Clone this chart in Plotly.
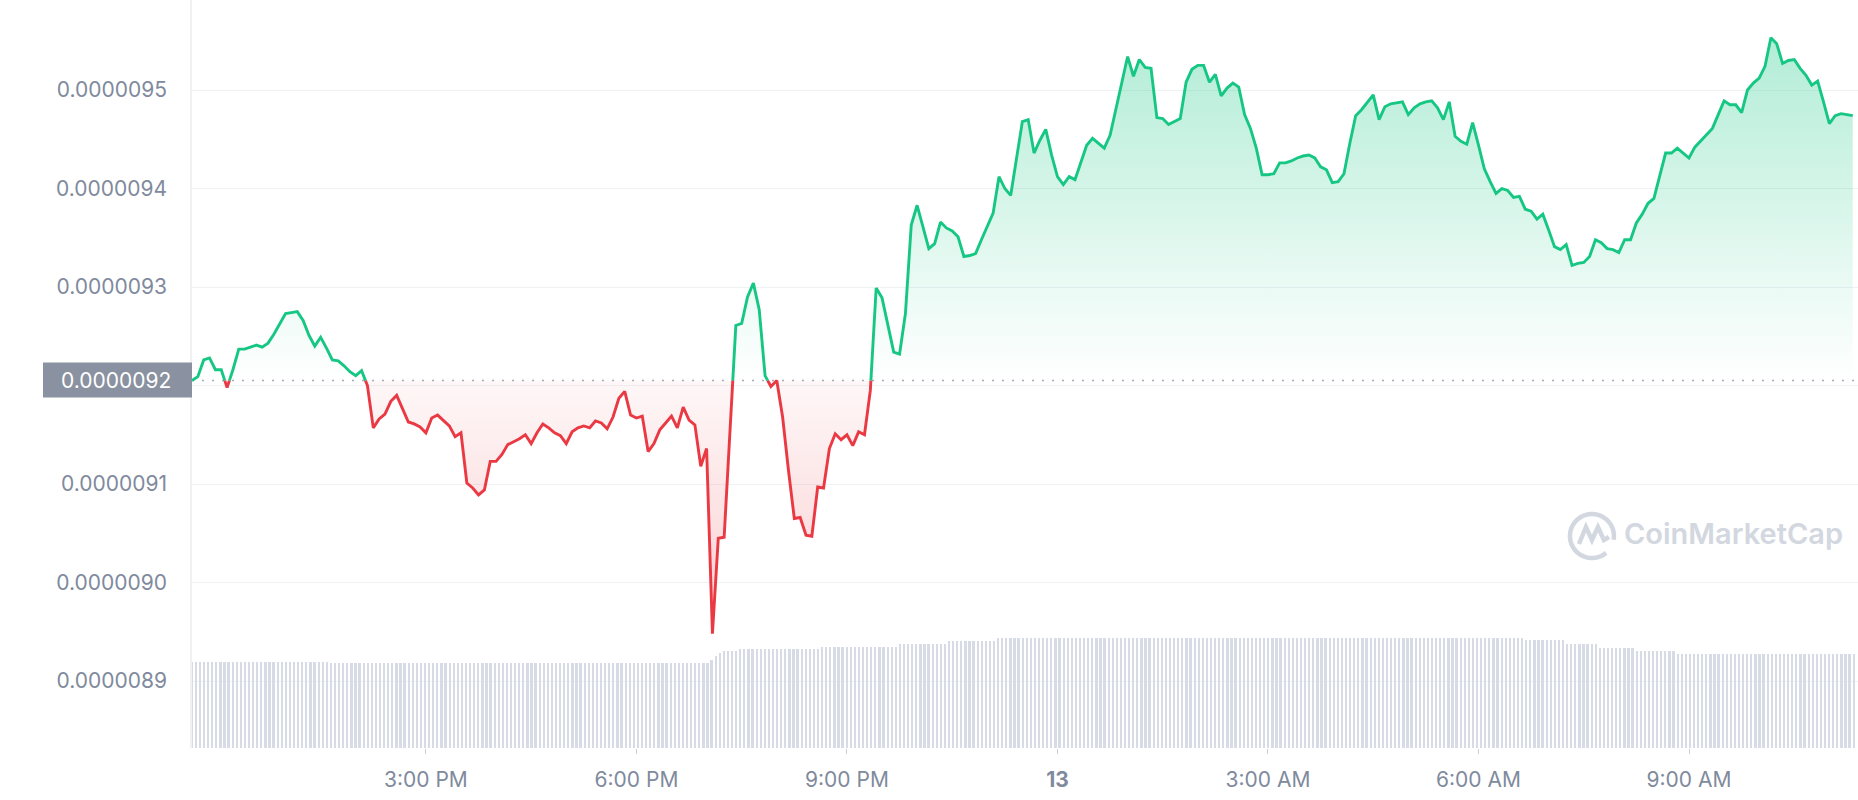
import numpy as np
import pandas as pd
import plotly.graph_objects as go

# ---------------- data (prices in millionths of a dollar, 5-minute steps) ----------------
START = "2023-01-12 11:40"
STEP = "5min"
PRICE_MICRO = [
    9.205, 9.209, 9.226, 9.228, 9.216, 9.216, 9.198, 9.216, 9.237, 9.237,
    9.239, 9.241, 9.239, 9.243, 9.252, 9.262, 9.273, 9.274, 9.275, 9.266,
    9.251, 9.240, 9.249, 9.238, 9.226, 9.225, 9.220, 9.214, 9.210, 9.215,
    9.200, 9.157, 9.166, 9.171, 9.184, 9.190, 9.176, 9.163, 9.161, 9.158,
    9.152, 9.167, 9.170, 9.165, 9.159, 9.148, 9.152, 9.101, 9.096, 9.089,
    9.094, 9.123, 9.123, 9.130, 9.140, 9.143, 9.146, 9.150, 9.141, 9.152,
    9.161, 9.157, 9.152, 9.149, 9.141, 9.153, 9.157, 9.159, 9.157, 9.164,
    9.162, 9.156, 9.168, 9.187, 9.194, 9.170, 9.167, 9.169, 9.133, 9.141,
    9.155, 9.162, 9.169, 9.157, 9.178, 9.165, 9.160, 9.118, 9.136, 8.948,
    9.045, 9.046, 9.154, 9.261, 9.263, 9.290, 9.304, 9.277, 9.210, 9.199,
    9.205, 9.168, 9.114, 9.065, 9.066, 9.048, 9.047, 9.097, 9.096, 9.136,
    9.151, 9.145, 9.150, 9.139, 9.153, 9.150, 9.195, 9.299, 9.289, 9.263,
    9.234, 9.232, 9.273, 9.363, 9.383, 9.361, 9.339, 9.344, 9.366, 9.360,
    9.357, 9.351, 9.331, 9.332, 9.334, 9.348, 9.361, 9.375, 9.412, 9.400,
    9.393, 9.432, 9.468, 9.470, 9.436, 9.449, 9.460, 9.434, 9.412, 9.404,
    9.412, 9.409, 9.426, 9.444, 9.451, 9.446, 9.441, 9.454, 9.480, 9.505,
    9.534, 9.514, 9.531, 9.523, 9.522, 9.472, 9.471, 9.465, 9.468, 9.471,
    9.508, 9.521, 9.525, 9.525, 9.508, 9.516, 9.494, 9.502, 9.507, 9.503,
    9.475, 9.461, 9.441, 9.414, 9.414, 9.415, 9.426, 9.426, 9.428, 9.431,
    9.433, 9.434, 9.431, 9.422, 9.419, 9.406, 9.407, 9.415, 9.446, 9.474,
    9.480, 9.488, 9.495, 9.470, 9.483, 9.486, 9.487, 9.488, 9.475, 9.482,
    9.486, 9.488, 9.489, 9.482, 9.470, 9.488, 9.453, 9.448, 9.445, 9.467,
    9.444, 9.420, 9.407, 9.395, 9.400, 9.398, 9.391, 9.392, 9.379, 9.377,
    9.369, 9.374, 9.358, 9.341, 9.338, 9.343, 9.322, 9.324, 9.325, 9.331,
    9.348, 9.345, 9.339, 9.338, 9.335, 9.348, 9.348, 9.365, 9.374, 9.385,
    9.390, 9.412, 9.436, 9.436, 9.441, 9.436, 9.431, 9.442, 9.448, 9.454,
    9.461, 9.475, 9.489, 9.485, 9.485, 9.477, 9.500, 9.507, 9.512, 9.524,
    9.553, 9.547, 9.527, 9.530, 9.531, 9.522, 9.515, 9.505, 9.509, 9.488,
    9.466, 9.474, 9.476, 9.475, 9.474,
]

# volume bars (millions, read as runs of equal-looking bars), 3.5-minute steps
VOL_START = "2023-01-12 11:40"
VOL_STEP = "210s"
VOL_RUN_COUNTS = [34, 56, 37, 1, 1, 1, 4, 20, 19, 12, 12, 129, 10, 8, 9, 10, 44]
VOL_RUN_VALUES = [345, 341, 339, 353, 369, 381, 389, 397, 405, 417, 429, 441, 433, 417, 401, 389, 377]

Y_TICKS = [8.9e-6, 9.0e-6, 9.1e-6, 9.2e-6, 9.3e-6, 9.4e-6, 9.5e-6]
Y_TICK_TEXT = ["0.0000089", "0.0000090", "0.0000091", "", "0.0000093", "0.0000094", "0.0000095"]
BASE_LABEL = "0.0000092"
X_TICKS = ["2023-01-12 15:00", "2023-01-12 18:00", "2023-01-12 21:00", "2023-01-13 00:00",
           "2023-01-13 03:00", "2023-01-13 06:00", "2023-01-13 09:00"]
X_TICK_TEXT = ["3:00 PM", "6:00 PM", "9:00 PM", "<b>13</b>", "3:00 AM", "6:00 AM", "9:00 AM"]
X_RANGE = ["2023-01-12 11:40", "2023-01-13 11:24:30"]
Y_RANGE = [8.832e-6, 9.5914e-6]
WATERMARK = "CoinMarketCap"

GREEN = "#16c784"
RED = "#ea3943"

# ---------------- derived ----------------
price = [p * 1e-6 for p in PRICE_MICRO]
t = pd.date_range(START, periods=len(price), freq=STEP)
base = price[0]

xs, ys = [], []
for k in range(len(price)):
    if k > 0:
        p0, p1 = price[k - 1], price[k]
        if (p0 - base) * (p1 - base) < 0:
            f = (base - p0) / (p1 - p0)
            xs.append(t[k - 1] + (t[k] - t[k - 1]) * f)
            ys.append(base)
    xs.append(t[k])
    ys.append(price[k])

up = [max(y, base) for y in ys]
down = [min(y, base) for y in ys]
green_line = [y if y >= base else None for y in ys]
red_line = [y if y <= base else None for y in ys]
basel = [base] * len(xs)

vol = []
for c, v in zip(VOL_RUN_COUNTS, VOL_RUN_VALUES):
    vol += [v] * c
tv = pd.date_range(VOL_START, periods=len(vol), freq=VOL_STEP)

fig = go.Figure()

fig.add_trace(go.Bar(x=tv, y=vol, yaxis="y2", marker=dict(color="#d6dbe5", line=dict(width=0)),
                     width=90000, hoverinfo="skip", showlegend=False))

fig.add_trace(go.Scatter(x=xs, y=basel, mode="lines", line=dict(width=0), hoverinfo="skip", showlegend=False))
fig.add_trace(go.Scatter(x=xs, y=up, mode="lines", line=dict(width=0), fill="tonexty",
                         fillgradient=dict(type="vertical",
                                           colorscale=[[0, "rgba(22,199,132,0.0)"], [1, "rgba(22,199,132,0.33)"]],
                                           start=base, stop=max(price)),
                         hoverinfo="skip", showlegend=False))
fig.add_trace(go.Scatter(x=xs, y=basel, mode="lines", line=dict(width=0), hoverinfo="skip", showlegend=False))
fig.add_trace(go.Scatter(x=xs, y=down, mode="lines", line=dict(width=0), fill="tonexty",
                         fillgradient=dict(type="vertical",
                                           colorscale=[[0, "rgba(234,57,67,0.24)"], [1, "rgba(234,57,67,0.04)"]],
                                           start=min(price), stop=base),
                         hoverinfo="skip", showlegend=False))

fig.add_trace(go.Scatter(x=[X_RANGE[0], X_RANGE[1]], y=[base, base], mode="lines",
                         line=dict(color="#a6acb9", width=1.5, dash="2px,8px"),
                         hoverinfo="skip", showlegend=False))

fig.add_trace(go.Scatter(x=xs, y=green_line, mode="lines", line=dict(color=GREEN, width=2.9),
                         showlegend=False))
fig.add_trace(go.Scatter(x=xs, y=red_line, mode="lines", line=dict(color=RED, width=2.9),
                         showlegend=False))

# base price label box on the y axis
fig.add_shape(type="rect", xref="paper", xsizemode="pixel", xanchor=0, x0=-149, x1=0,
              yref="y", ysizemode="pixel", yanchor=base, y0=-17, y1=18,
              fillcolor="#8a91a0", line=dict(width=0), layer="above")
fig.add_annotation(xref="paper", x=0, xshift=-19, xanchor="right", yref="y", y=base,
                   text=BASE_LABEL, showarrow=False,
                   font=dict(family="Inter", size=21, color="#ffffff"))

# watermark logo (ring + wave) and text
ang = np.linspace(np.deg2rad(-50), np.deg2rad(-50 - 320), 60)
ring = "M " + " L ".join(f"{22 * np.cos(a):.2f},{22 * np.sin(a):.2f}" for a in ang)
fig.add_shape(type="path", xref="paper", xsizemode="pixel", xanchor=0.8403,
              yref="paper", ysizemode="pixel", yanchor=0.2834, path=ring,
              line=dict(color="#d2d7e0", width=4.5), layer="below")
wave = "M -13,-8 L -6,9 L 0,-4 L 6,9 L 12,-4 L 17,-1"
fig.add_shape(type="path", xref="paper", xsizemode="pixel", xanchor=0.8403,
              yref="paper", ysizemode="pixel", yanchor=0.2834, path=wave,
              line=dict(color="#d2d7e0", width=4.5), layer="below")
fig.add_annotation(xref="paper", x=0.8583, xanchor="left", yref="paper", y=0.2874, yanchor="middle",
                   text=WATERMARK, showarrow=False,
                   font=dict(family="Inter", size=29, color="#d2d7e0", weight=600))

fig.update_layout(
    width=1858, height=800,
    margin=dict(l=192, r=0, t=0, b=52),
    paper_bgcolor="white", plot_bgcolor="white",
    bargap=0,
    xaxis=dict(type="date", range=X_RANGE, tickvals=X_TICKS, ticktext=X_TICK_TEXT,
               showgrid=False, zeroline=False, showline=False,
               ticks="outside", ticklen=5, tickwidth=1, tickcolor="#c9ced8",
               ticklabelstandoff=8,
               tickfont=dict(family="Inter", size=21, color="#808a9d")),
    yaxis=dict(range=Y_RANGE, tickvals=Y_TICKS, ticktext=Y_TICK_TEXT,
               showgrid=True, gridcolor="#eff2f5", gridwidth=1, zeroline=False,
               showline=True, linecolor="#eff2f5", linewidth=1.5,
               ticks="", ticklabelstandoff=19,
               tickfont=dict(family="Inter", size=21, color="#808a9d")),
    yaxis2=dict(range=[0, 3000], overlaying="y", visible=False),
    font=dict(family="Inter"),
)

fig.write_html("out.html", config={"displayModeBar": False},
               post_script="document.body.style.margin='0';document.body.style.overflow='hidden';")
